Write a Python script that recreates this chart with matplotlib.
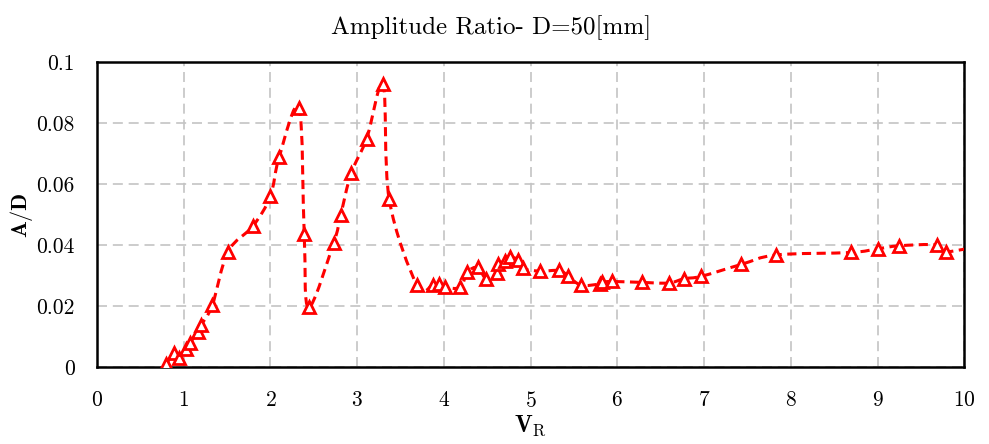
import numpy as np
import matplotlib
matplotlib.use("Agg")
import matplotlib.pyplot as plt
from matplotlib.path import Path
from matplotlib.patches import PathPatch

plt.rcParams["font.family"] = "serif"
plt.rcParams["font.serif"] = ["cmr10", "DejaVu Serif"]
plt.rcParams["mathtext.fontset"] = "cm"
plt.rcParams["axes.unicode_minus"] = False
plt.rcParams["axes.formatter.use_mathtext"] = True

# data
vr = [0.80, 0.89, 0.95, 1.03, 1.07, 1.16, 1.20, 1.33, 1.51, 1.80, 2.00, 2.10,
      2.33, 2.39, 2.44, 2.73, 2.81, 2.93, 3.11, 3.30, 3.37, 3.69, 3.87, 3.94,
      4.01, 4.19, 4.27, 4.39, 4.49, 4.61, 4.62, 4.70, 4.76, 4.85, 4.91, 5.11,
      5.33, 5.43, 5.58, 5.80, 5.82, 5.94, 6.28, 6.59, 6.77, 6.97, 7.43, 7.83,
      8.69, 9.00, 9.25, 9.68, 9.79, 10.3]
ad = [0.0010, 0.0047, 0.0030, 0.0059, 0.0078, 0.0116, 0.0138, 0.0203, 0.0378,
      0.0463, 0.0561, 0.0688, 0.0850, 0.0436, 0.0196, 0.0408, 0.0498, 0.0635,
      0.0749, 0.0927, 0.0550, 0.0268, 0.0269, 0.0272, 0.0262, 0.0262, 0.0311,
      0.0327, 0.0289, 0.0309, 0.0337, 0.0348, 0.0360, 0.0353, 0.0324, 0.0315,
      0.0317, 0.0300, 0.0269, 0.0273, 0.0278, 0.0281, 0.0278, 0.0276, 0.0290,
      0.0298, 0.0337, 0.0368, 0.0376, 0.0388, 0.0398, 0.0401, 0.0378, 0.0405]

xticks = [0, 1, 2, 3, 4, 5, 6, 7, 8, 9, 10]
yticks = [0, 0.02, 0.04, 0.06, 0.08, 0.1]
ytick_labels = ["0", "0.02", "0.04", "0.06", "0.08", "0.1"]


def smooth_path(x, y, t=1 / 6):
    # Catmull-Rom style cubic Bezier through the points (like a smoothed line)
    x = np.asarray(x, float)
    y = np.asarray(y, float)
    n = len(x)
    verts = [(x[0], y[0])]
    codes = [Path.MOVETO]
    for i in range(n - 1):
        p0 = i - 1 if i > 0 else i
        p3 = i + 2 if i + 2 < n else i + 1
        c1 = (x[i] + (x[i + 1] - x[p0]) * t, y[i] + (y[i + 1] - y[p0]) * t)
        c2 = (x[i + 1] - (x[p3] - x[i]) * t, y[i + 1] - (y[p3] - y[i]) * t)
        verts += [c1, c2, (x[i + 1], y[i + 1])]
        codes += [Path.CURVE4] * 3
    return Path(verts, codes)


fig = plt.figure(figsize=(9.89, 4.44), dpi=100)
ax = fig.add_axes([0.098, 0.173, 0.877, 0.687])

ax.add_patch(PathPatch(smooth_path(vr, ad), fill=False, edgecolor="red",
                       linewidth=2.2, linestyle=(0, (3, 1.8)), zorder=3))
ax.plot(vr, ad, linestyle="none", marker="^", markersize=8.5,
        markerfacecolor="white", markeredgecolor="red", markeredgewidth=2,
        zorder=4, clip_on=True)

ax.set_xlim(0, 10)
ax.set_ylim(0, 0.1)
ax.set_xticks(xticks)
ax.set_yticks(yticks)
ax.set_yticklabels(ytick_labels)
ax.tick_params(length=0, labelsize=15.5)
ax.tick_params(axis="y", pad=16)
ax.tick_params(axis="x", pad=17)
ax.grid(True, color="#c4c4c4", linestyle=(0, (6, 3.5)), linewidth=1.2)
ax.set_axisbelow(True)
for s in ax.spines.values():
    s.set_linewidth(1.8)
    s.set_color("black")

ax.set_title("Amplitude Ratio- D=50[mm]", fontsize=18, pad=20, x=0.455)
ax.set_xlabel(r"$\mathbf{V}_{\mathrm{R}}$", fontsize=17, labelpad=2)
ax.set_ylabel(r"$\mathbf{A/D}$", fontsize=16, labelpad=1)

fig.savefig("out.png", dpi=100)
